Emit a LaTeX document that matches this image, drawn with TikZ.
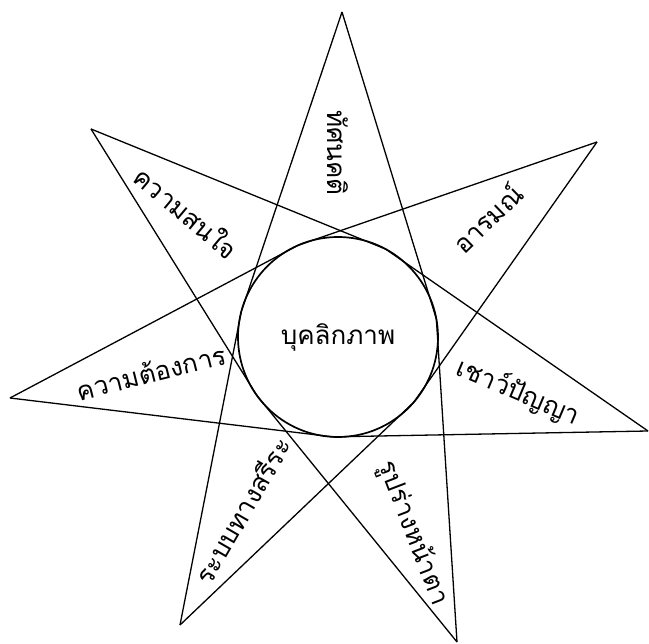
\documentclass[tikz,border=0pt]{standalone}
\usepackage{fontspec}
\usetikzlibrary{calc}
\newfontfamily\thaifont[Script=Thai]{Loma}
\begin{document}
\begin{tikzpicture}[x=1pt,y=-1pt,
  starline/.style={line width=1.3pt,line join=round},
  lbl/.style={font=\thaifont\fontsize{26}{30}\selectfont,inner sep=0pt}]
\useasboundingbox (0,0) rectangle (649,644);
\coordinate (T) at (342,12);
\coordinate (UR) at (597,142);
\coordinate (R) at (648,431);
\coordinate (BR) at (457,642);
\coordinate (BL) at (180,625);
\coordinate (L) at (10,398);
\coordinate (UL) at (91,129);
\coordinate (c) at (338,337);
\node[draw,circle,line width=1.7pt,minimum size=200pt,inner sep=0pt,
  font=\thaifont\fontsize{26}{30}\selectfont] (core) at (c) {บุคลิกภาพ};
% each stroke of the star bends where it touches the circle
\foreach \a/\b/\n in {T/BL/1,T/BR/2,UR/L/3,UR/BL/4,R/L/5,R/UL/6,BR/UL/7}{
  \coordinate (f\n) at ($(\a)!(c)!(\b)$);
  \coordinate (p\n) at ($(c)!100pt!(f\n)$);
  \draw[starline] (\a) -- (p\n) -- (\b);
}
\node[lbl,rotate=-90] (att) at (338,153) {ทัศนคติ};
\node[lbl,rotate=-40] (int) at (187,212) {ความสนใจ};
\node[lbl,rotate=44] (emo) at (487,218) {อารมณ์};
\node[lbl,rotate=14] (need) at (151,372) {ความต้องการ};
\node[lbl,rotate=-23] (iq) at (518,392) {เชาว์ปัญญา};
\node[lbl,rotate=60] (phys) at (242,510) {ระบบทางสรีระ};
\node[lbl,rotate=-69] (look) at (413,533) {รูปร่างหน้าตา};
\end{tikzpicture}
\end{document}
